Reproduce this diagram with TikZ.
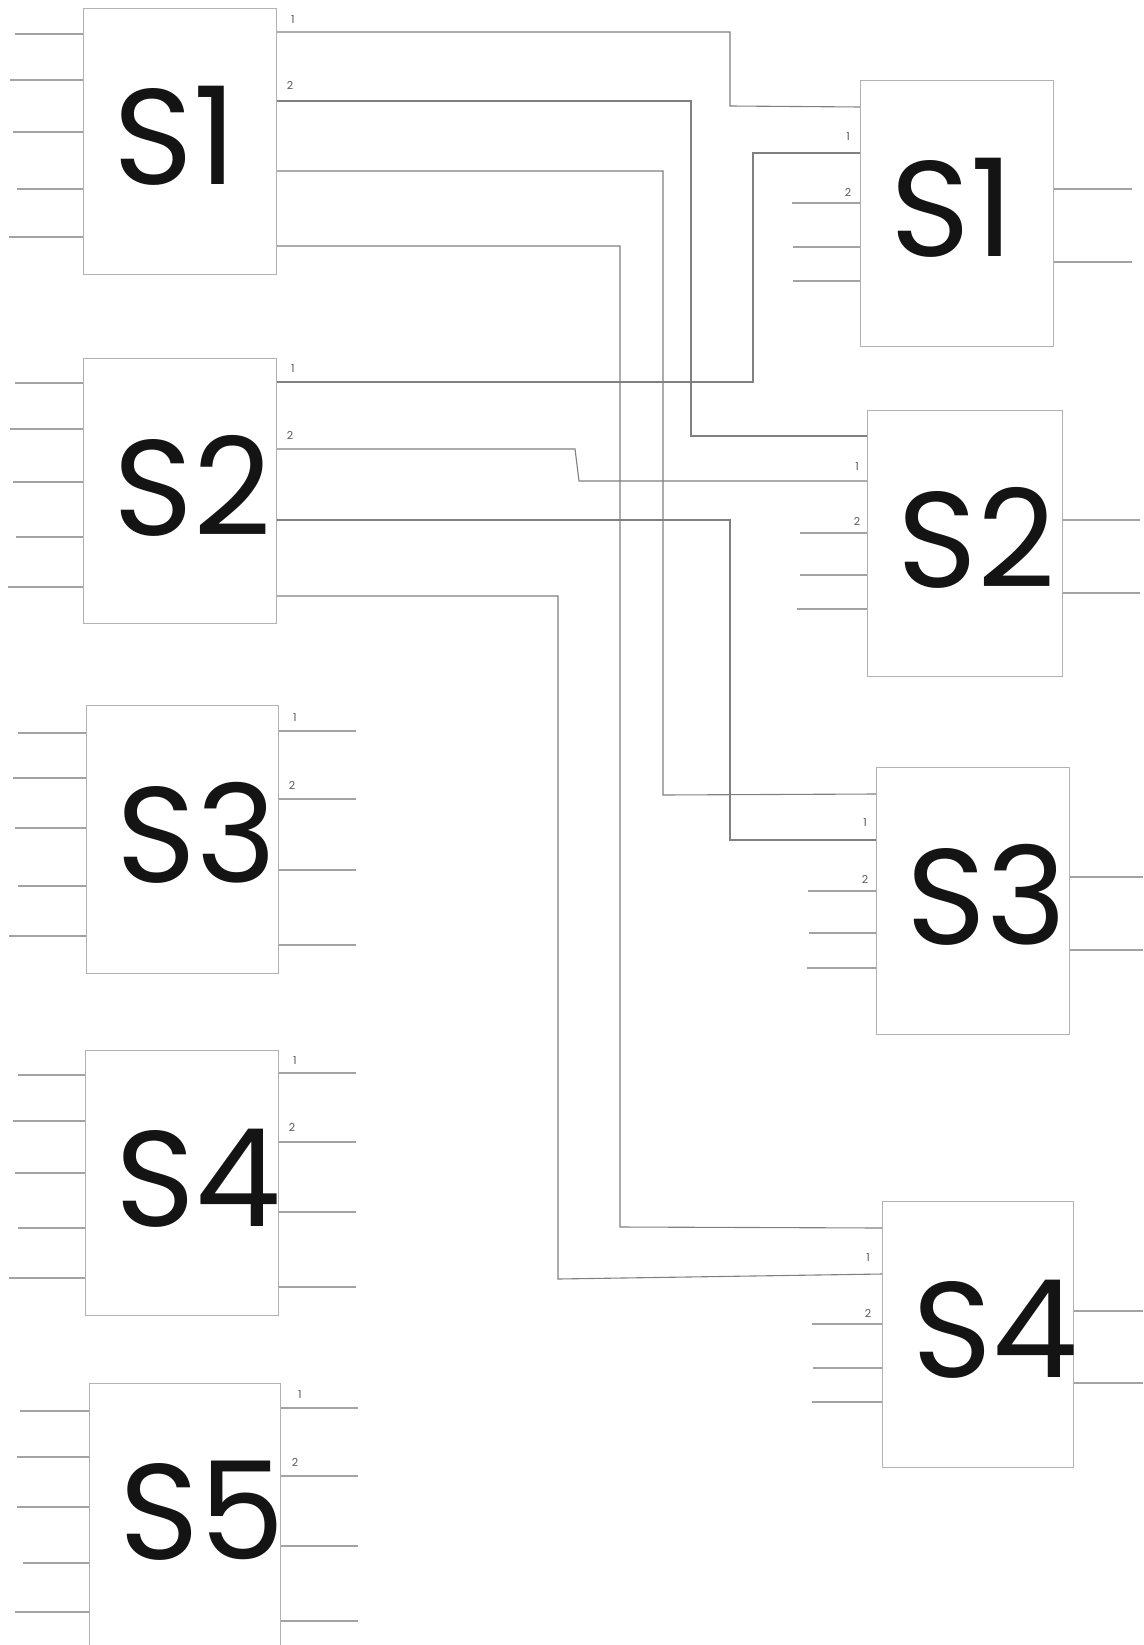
\documentclass[tikz,border=0pt]{standalone}
\usepackage{fontspec}
\setmainfont{Poppins}
\begin{document}
\begin{tikzpicture}[x=1pt,y=-1pt,
  blk/.style={draw=black!30, line width=1.1pt, inner sep=0pt, anchor=north west},
  wire/.style={draw=black!36, line width=1.1pt},
  conn/.style={draw=black!50, line width=1.1pt},
  big/.style={inner sep=0pt, anchor=west, font=\fontsize{136}{136}\selectfont, text=black!92},
  pinlbl/.style={inner sep=0pt, font=\fontsize{11}{11}\selectfont, text=black!65}]
\useasboundingbox (0,0) rectangle (1143,1645);
\fill[white] (0,0) rectangle (1143,1645);
% left blocks
\node[blk, minimum width=193pt, minimum height=266pt] (L1) at (83,8) {};
\node[blk, minimum width=193pt, minimum height=265pt] (L2) at (83,358) {};
\node[blk, minimum width=192pt, minimum height=268pt] (L3) at (86,705) {};
\node[blk, minimum width=193pt, minimum height=265pt] (L4) at (85,1050) {};
\node[blk, minimum width=191pt, minimum height=275pt] (L5) at (89,1383) {};
% right blocks
\node[blk, minimum width=193pt, minimum height=266pt] (R1) at (860,80) {};
\node[blk, minimum width=195pt, minimum height=266pt] (R2) at (867,410) {};
\node[blk, minimum width=193pt, minimum height=267pt] (R3) at (876,767) {};
\node[blk, minimum width=191pt, minimum height=266pt] (R4) at (882,1201) {};
% big labels
\foreach \b/\t in {L1/S1,L2/S2,L3/S3,L4/S4,L5/S5,R1/S1,R2/S2,R3/S3,R4/S4}
  \node[big] (\b t) at ([xshift=30pt,yshift=-128pt]\b.north west) {\t};
% left input stubs
\foreach \x/\y in {15/34,10/80,13/132,17/189,9/237} \draw[wire] (\x,\y) -- (L1.west |- 0,\y);
\foreach \x/\y in {15/383,10/429,13/482,16/537,8/587} \draw[wire] (\x,\y) -- (L2.west |- 0,\y);
\foreach \x/\y in {18/733,13/778,15/828,18/886,9/936} \draw[wire] (\x,\y) -- (L3.west |- 0,\y);
\foreach \x/\y in {18/1075,13/1121,15/1173,18/1228,9/1278} \draw[wire] (\x,\y) -- (L4.west |- 0,\y);
\foreach \x/\y in {20/1411,17/1457,17/1507,23/1563,15/1612} \draw[wire] (\x,\y) -- (L5.west |- 0,\y);
% left output stubs (unconnected)
\foreach \y in {731,799,870,945} \draw[wire] (L3.east |- 0,\y) -- (356,\y);
\foreach \y in {1073,1142,1212,1287} \draw[wire] (L4.east |- 0,\y) -- (356,\y);
\foreach \y in {1408,1476,1546,1621} \draw[wire] (L5.east |- 0,\y) -- (358,\y);
% right input stubs
\foreach \x/\y in {792/203,793/247,793/281} \draw[wire] (\x,\y) -- (R1.west |- 0,\y);
\foreach \x/\y in {800/533,800/575,797/609} \draw[wire] (\x,\y) -- (R2.west |- 0,\y);
\foreach \x/\y in {808/891,809/933,807/968} \draw[wire] (\x,\y) -- (R3.west |- 0,\y);
\foreach \x/\y in {812/1324,813/1368,812/1402} \draw[wire] (\x,\y) -- (R4.west |- 0,\y);
% right output stubs
\foreach \y in {189,262} \draw[wire] (R1.east |- 0,\y) -- (1132,\y);
\foreach \y in {520,593} \draw[wire] (R2.east |- 0,\y) -- (1140,\y);
\foreach \y in {877,950} \draw[wire] (R3.east |- 0,\y) -- (1143,\y);
\foreach \y in {1311,1383} \draw[wire] (R4.east |- 0,\y) -- (1143,\y);
% connectors
\draw[conn] (L1.east |- 0,32) -- (730,32) -- (730,106) -- (R1.west |- 0,107);
\draw[conn] (L1.east |- 0,101) -- (691,101) -- (691,436) -- (R2.west |- 0,436);
\draw[conn] (L1.east |- 0,171) -- (663,171) -- (663,795) -- (R3.west |- 0,794);
\draw[conn] (L1.east |- 0,246) -- (620,246) -- (620,1227) -- (R4.west |- 0,1228);
\draw[conn] (L2.east |- 0,382) -- (753,382) -- (753,153) -- (R1.west |- 0,153);
\draw[conn] (L2.east |- 0,449) -- (575,449) -- (579,481) -- (R2.west |- 0,481);
\draw[conn] (L2.east |- 0,520) -- (730,520) -- (730,840) -- (R3.west |- 0,840);
\draw[conn] (L2.east |- 0,596) -- (558,596) -- (558,1279) -- (R4.west |- 0,1274);
% pin numbers
\node[pinlbl] (L1p1) at (293,20) {1};   \node[pinlbl] (L1p2) at (290,85) {2};
\node[pinlbl] (L2p1) at (293,369) {1};  \node[pinlbl] (L2p2) at (290,435) {2};
\node[pinlbl] (L3p1) at (295,718) {1};  \node[pinlbl] (L3p2) at (292,785) {2};
\node[pinlbl] (L4p1) at (295,1061) {1}; \node[pinlbl] (L4p2) at (292,1127) {2};
\node[pinlbl] (L5p1) at (300,1395) {1}; \node[pinlbl] (L5p2) at (295,1462) {2};
\node[pinlbl] (R1p1) at (848,137) {1};  \node[pinlbl] (R1p2) at (848,192) {2};
\node[pinlbl] (R2p1) at (857,467) {1};  \node[pinlbl] (R2p2) at (857,521) {2};
\node[pinlbl] (R3p1) at (865,823) {1};  \node[pinlbl] (R3p2) at (865,879) {2};
\node[pinlbl] (R4p1) at (868,1258) {1}; \node[pinlbl] (R4p2) at (868,1313) {2};
\end{tikzpicture}
\end{document}
